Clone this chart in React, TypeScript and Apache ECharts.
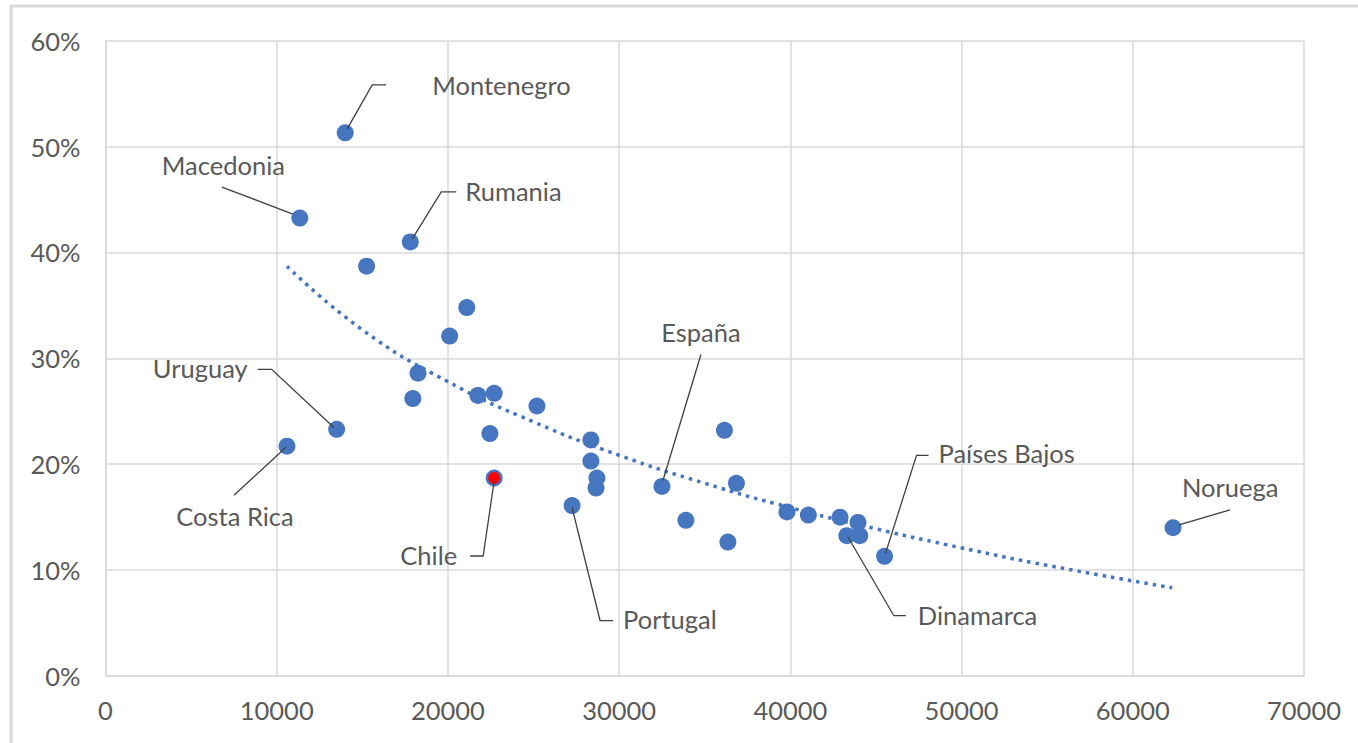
import React, { useEffect, useRef } from "react";
import * as echarts from "echarts";

// ---- data ----
const countries = [
  "Montenegro", "Macedonia", "Rumania", "", "", "", "", "", "", "", "",
  "Uruguay", "Costa Rica", "", "", "", "Chile", "", "", "Portugal", "España",
  "", "", "", "", "", "", "", "", "Dinamarca", "", "Países Bajos", "Noruega",
];
const gdpPerCapita = [
  14000, 11350, 17800, 15250, 21100, 20100, 18250, 17950, 21750, 22700, 25200,
  13500, 10600, 22450, 28350, 28350, 22700, 28700, 28650, 27250, 32500,
  33900, 36150, 36850, 36350, 39800, 41050, 42900, 43950, 43300, 44050, 45500, 62350,
];
const shareValues = [
  0.513, 0.4325, 0.41, 0.387, 0.348, 0.321, 0.286, 0.262, 0.265, 0.267, 0.255,
  0.233, 0.217, 0.229, 0.223, 0.203, 0.187, 0.187, 0.1775, 0.161, 0.179,
  0.147, 0.232, 0.182, 0.1265, 0.155, 0.152, 0.15, 0.145, 0.1325, 0.1325, 0.113, 0.14,
];
const highlighted = "Chile";

// dotted trend line
const trendX = [10600, 15000, 20000, 25000, 30000, 35000, 40000, 45000, 50000, 55000, 62300];
const trendY = [0.387, 0.327, 0.278, 0.24, 0.2085, 0.182, 0.159, 0.139, 0.121, 0.1045, 0.0833];

// ---- label layout (pixel offsets from the marker centre) ----
type LabelCfg = { tx: number; ty: number; align: "left" | "right" | "center"; line: number[][] };
const labelLayout: Record<string, LabelCfg> = {
  Montenegro: { tx: 87, ty: -48, align: "left", line: [[2, -4], [27, -48], [41, -48]] },
  Macedonia: { tx: -138, ty: -53, align: "left", line: [[-7, -4], [-78, -31]] },
  Rumania: { tx: 55, ty: -51, align: "left", line: [[2, -3], [31, -50], [46, -50]] },
  Uruguay: { tx: -89, ty: -61, align: "right", line: [[-3, -2], [-65, -60], [-79, -60]] },
  "Costa Rica": { tx: -52, ty: 70, align: "center", line: [[-1, 1], [-53, 49]] },
  Chile: { tx: -37, ty: 77, align: "right", line: [[0, 3], [-11, 78], [-24, 78]] },
  Portugal: { tx: 51, ty: 113, align: "left", line: [[0, 2], [28, 115], [41, 115]] },
  "España": { tx: 39, ty: -154, align: "center", line: [[1, -6], [39, -132]] },
  "Países Bajos": { tx: 54, ty: -103, align: "left", line: [[1, -3], [32, -101], [44, -101]] },
  Dinamarca: { tx: 71, ty: 79, align: "left", line: [[1, 1], [47, 80], [59, 80]] },
  Noruega: { tx: 9, ty: -41, align: "left", line: [[6, -3], [57, -18]] },
};

const BLUE = "#4776c0";
const TEXT = "#595959";
const GRID = "#d9d9d9";
const FONT = "Lato, 'Open Sans', sans-serif";
const FS = 25.5;

export default function App() {
  const ref = useRef<HTMLDivElement>(null);

  useEffect(() => {
    document.body.style.margin = "0";
    if (!ref.current) return;
    const chart = echarts.init(ref.current, null, { renderer: "svg" });

    const labeledIdx = countries
      .map((c, i) => (c ? i : -1))
      .filter((i) => i >= 0);

    const scatterData = gdpPerCapita.map((x, i) => {
      const item: any = { value: [x, shareValues[i]], name: countries[i] };
      if (countries[i] === highlighted) {
        item.itemStyle = { color: "#ff0000", borderColor: BLUE, borderWidth: 2.5 };
        item.symbolSize = 14.5;
      }
      return item;
    });

    const option: any = {
      animation: false,
      backgroundColor: "#ffffff",
      textStyle: { fontFamily: FONT },
      graphic: [
        {
          type: "rect",
          silent: true,
          shape: { x: 11, y: 6, width: 1420, height: 800 },
          style: { fill: "none", stroke: GRID, lineWidth: 3 },
          z: -1,
        },
      ],
      grid: { left: 105.5, top: 40.7, right: 54, bottom: 67 },
      xAxis: {
        type: "value",
        min: 0,
        max: 70000,
        interval: 10000,
        axisLine: { show: true, lineStyle: { color: GRID, width: 1.5 } },
        axisTick: { show: false },
        splitLine: { show: true, lineStyle: { color: GRID, width: 1.5 } },
        axisLabel: {
          color: TEXT,
          fontSize: FS,
          fontFamily: FONT,
          margin: 21,
          formatter: (v: number) => String(v),
        },
      },
      yAxis: {
        type: "value",
        min: 0,
        max: 0.6,
        interval: 0.1,
        axisLine: { show: true, lineStyle: { color: GRID, width: 1.5 } },
        axisTick: { show: false },
        splitLine: { show: true, lineStyle: { color: GRID, width: 1.5 } },
        axisLabel: {
          color: TEXT,
          fontSize: FS,
          fontFamily: FONT,
          margin: 25,
          padding: [0, 0, 5, 0],
          formatter: (v: number) => Math.round(v * 100) + "%",
        },
      },
      series: [
        {
          type: "scatter",
          data: scatterData,
          symbolSize: 17,
          itemStyle: { color: BLUE, opacity: 1 },
          z: 2,
        },
        {
          type: "line",
          data: trendX.map((x, i) => [x, trendY[i]]),
          smooth: true,
          showSymbol: false,
          symbol: "none",
          lineStyle: { color: BLUE, width: 3.5, type: [3.5, 5] },
          z: 3,
        },
        {
          type: "custom",
          coordinateSystem: "cartesian2d",
          data: labeledIdx.map((i) => [gdpPerCapita[i], shareValues[i]]),
          encode: { x: 0, y: 1 },
          z: 4,
          silent: true,
          renderItem: (params: any, api: any) => {
            const idx = labeledIdx[params.dataIndex];
            const name = countries[idx];
            const cfg = labelLayout[name];
            const p = api.coord([api.value(0), api.value(1)]);
            return {
              type: "group",
              children: [
                {
                  type: "polyline",
                  shape: { points: cfg.line.map(([dx, dy]) => [p[0] + dx, p[1] + dy]) },
                  style: { stroke: "#3f3f3f", lineWidth: 1.3, fill: null },
                },
                {
                  type: "text",
                  x: p[0] + cfg.tx,
                  y: p[1] + cfg.ty,
                  style: {
                    text: name,
                    fill: TEXT,
                    fontSize: FS,
                    fontFamily: FONT,
                    align: cfg.align,
                    verticalAlign: "middle",
                  },
                },
              ],
            };
          },
        },
      ],
    };

    chart.setOption(option);
    return () => chart.dispose();
  }, []);

  return <div ref={ref} style={{ width: 1358, height: 743 }} />;
}
